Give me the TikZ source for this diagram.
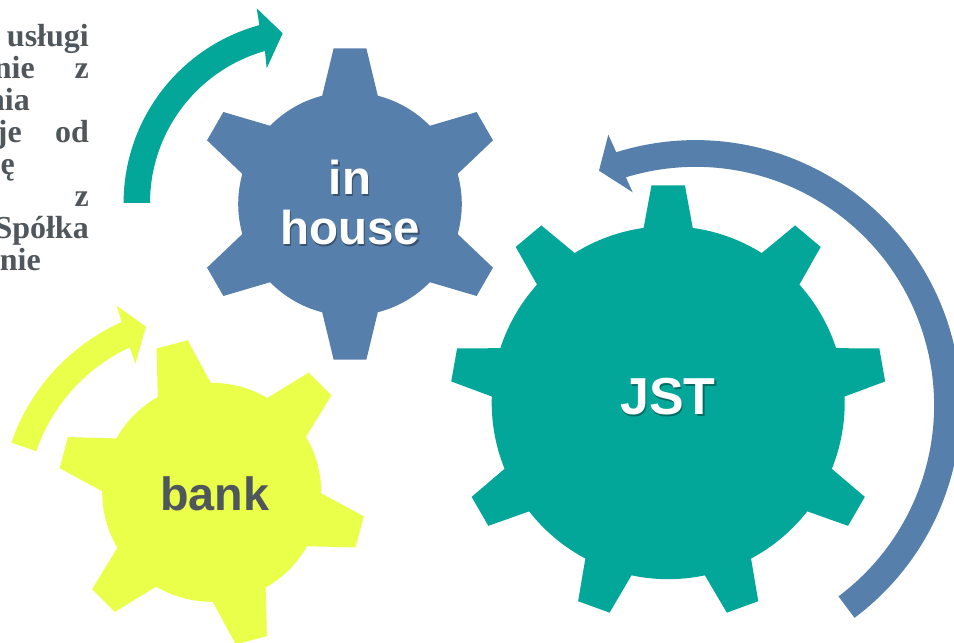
\documentclass[tikz,border=0pt]{standalone}
\usepackage{fontspec}
\setmainfont{Liberation Serif}
\setsansfont{Liberation Sans}
\usepackage{tikz}

\definecolor{gearteal}{HTML}{03A79A}
\definecolor{gearblue}{HTML}{5680AB}
\definecolor{gearlime}{HTML}{EAFF4A}
\definecolor{textgrey}{HTML}{4F565C}

% #1 centre, #2 teeth, #3 first tooth angle, #4 body radius, #5 tip radius,
% #6 half angle at body, #7 half angle at tip, #8 colour
\newcommand{\gearshape}[8]{
	\pgfmathsetmacro{\gearstep}{360/#2}
	\fill[#8] ([shift={(#3-#6:#4)}]#1)
		\foreach \t in {1,...,#2}{
			-- ([shift={(#3+\t*\gearstep-\gearstep-#7:#5)}]#1)
			-- ([shift={(#3+\t*\gearstep-\gearstep+#7:#5)}]#1)
			-- ([shift={(#3+\t*\gearstep-\gearstep+#6:#4)}]#1)
			arc[start angle=#3+\t*\gearstep-\gearstep+#6, end angle=#3+\t*\gearstep-#6, radius=#4]
		} -- cycle;
}

\begin{document}
\begin{tikzpicture}[
	x=1pt,y=1pt,
	biglabel/.style={
		font=\sffamily\bfseries\fontsize{#1}{50}\selectfont,
		align=center,
		inner sep=0pt,
	},
	sidetext/.style={
		font=\rmfamily\bfseries\fontsize{32}{32}\selectfont,
		text=textgrey,
		inner sep=0pt,
		anchor=base east,
	},
]

\useasboundingbox (0,0) rectangle (954,643);
\clip (0,0) rectangle (954,643);

\coordinate (jstc) at (668.2,240.3);
\coordinate (housec) at (350,439);
\coordinate (bankc) at (211.7,150.7);
\coordinate (tealc) at (308,440);
\coordinate (limec) at (205.5,133.5);
\coordinate (bluec) at (695.6,237.6);

% Gears
\gearshape{jstc}{9}{90}{176.5}{218}{8}{4.4}{gearteal}
\gearshape{housec}{6}{90}{111.8}{156.5}{14.4}{6}{gearblue}
\gearshape{bankc}{6}{105}{109.5}{154}{14.5}{6}{gearlime}

% Arrows round the gears
\fill[gearteal] ([shift={(180:184.4)}]tealc) arc[start angle=180,end angle=105.3,radius=184.4]
	-- (256.7,634.7) -- (282.7,609.7) -- (266.7,574.7) -- ([shift={(105.8:158)}]tealc)
	arc[start angle=105.8,end angle=180,radius=158] -- cycle;

\fill[gearlime] ([shift={(161:205.4)}]limec) arc[start angle=161,end angle=114.1,radius=205.4]
	-- (116.7,337.3) -- (146,316.3) -- (135.3,279.3) -- ([shift={(115.05:179)}]limec)
	arc[start angle=115.05,end angle=161,radius=179] -- cycle;

\fill[gearblue] ([shift={(-53.2:265.3)}]bluec) arc[start angle=-53.2,end angle=107.4,radius=265.3]
	-- (608.3,508.3) -- (599,472.3) -- (632.7,450.7) -- ([shift={(107:238.5)}]bluec)
	arc[start angle=107,end angle=-53.2,radius=238.5] -- cycle;

% Gear labels
\node[biglabel=47.5,text=black!35!gearblue] at (351.5,438.5) {in\\house};
\node[biglabel=47.5,text=white] (house) at (350,440) {in\\house};
\node[biglabel=52,text=black!35!gearteal] at (669.5,244.5) {JST};
\node[biglabel=52,text=white] (jst) at (668,246) {JST};
\node[biglabel=46.7,text=textgrey] (bank) at (214.5,149) {bank};

% Text cut off by the left edge
\node[sidetext] (t1) at (89,596) {usługi};
\node[sidetext] (t2) at (35,564) {nie};
\node[sidetext] (t3) at (89,564) {z};
\node[sidetext] (t4) at (30,532) {nia};
\node[sidetext] (t5) at (22,500) {je};
\node[sidetext] (t6) at (89,500) {od};
\node[sidetext] (t7) at (15,468) {ę};
\node[sidetext] (t8) at (89,436) {z};
\node[sidetext] (t9) at (89,404) {Spółka};
\node[sidetext] (t10) at (41,372.7) {nie};

\end{tikzpicture}
\end{document}
